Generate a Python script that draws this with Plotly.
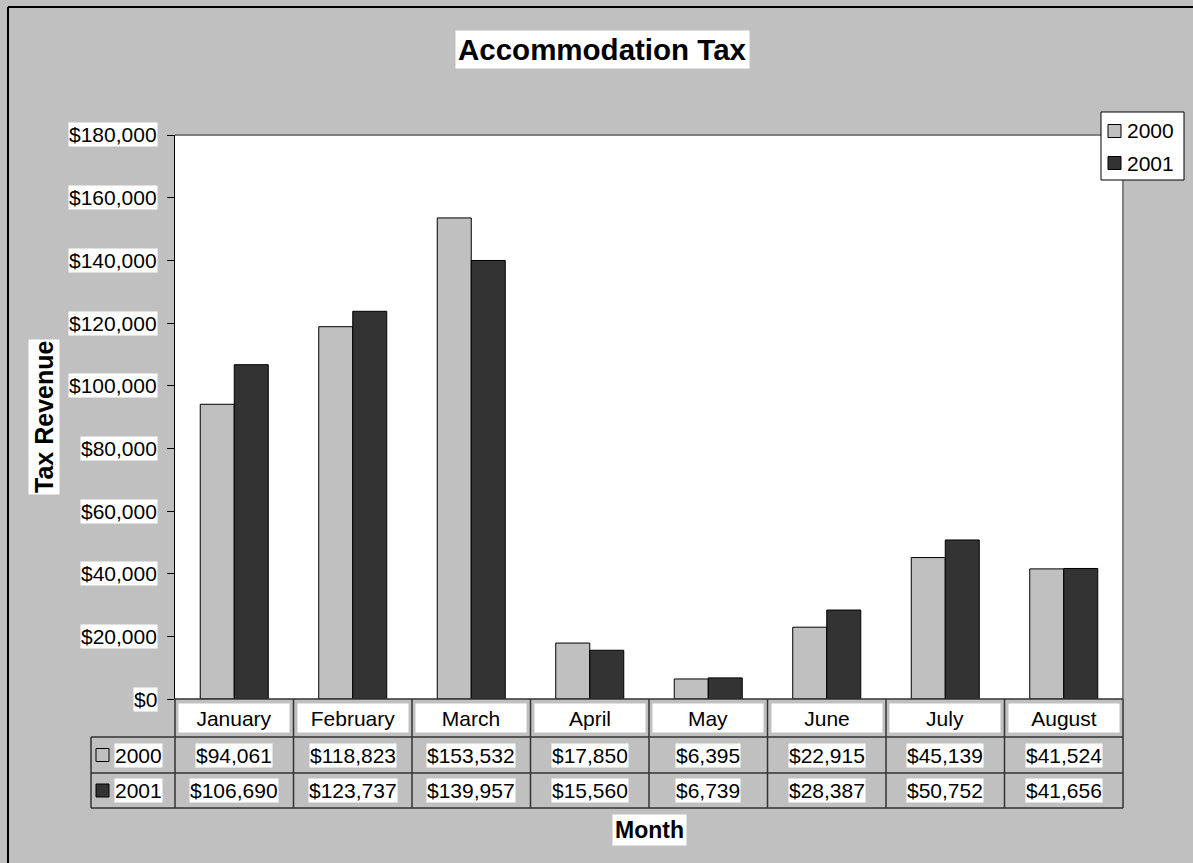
import plotly.graph_objects as go

# ── Data ────────────────────────────────────────────────────────────
MONTHS = ["January", "February", "March", "April", "May", "June", "July", "August"]
TAX_2000 = [94061, 118823, 153532, 17850, 6395, 22915, 45139, 41524]
TAX_2001 = [106690, 123737, 139957, 15560, 6739, 28387, 50752, 41656]
SERIES = ["2000", "2001"]
Y_TICKS = [0, 20000, 40000, 60000, 80000, 100000, 120000, 140000, 160000, 180000]

# ── Theme ───────────────────────────────────────────────────────────
W, H = 1193, 863
FONT = "Liberation Sans, Arial, sans-serif"
BG = "#C0C0C0"
COLOR_2000 = "#C0C0C0"
COLOR_2001 = "#333333"
COLORS = [COLOR_2000, COLOR_2001]
TXT = 21

# plot area in pixels
PL, PR, PT, PB = 175, 1123, 135, 699
ROW1, ROW2, ROW_END = 737, 773, 808
KEY_LEFT = 91


def px(x):
    return x / W


def py(y):
    return 1 - y / H


def label(x, y, text, size=TXT, **kw):
    """White-boxed text, Excel style, centred on (x, y) unless told otherwise."""
    d = dict(x=x, y=y, text=text, showarrow=False, bgcolor="white",
             borderpad=0, xanchor="center", yanchor="middle",
             font=dict(size=size, color="#000000"))
    d.update(kw)
    return d


fig = go.Figure()
for name, vals, col in zip(SERIES, [TAX_2000, TAX_2001], COLORS):
    fig.add_trace(go.Bar(
        x=MONTHS, y=vals, name=name,
        marker=dict(color=col, line=dict(color="#000000", width=1)),
    ))

shapes = []
annotations = []


def hline(y, x0, x1, color, width):
    shapes.append(dict(type="line", xref="paper", yref="paper",
                       x0=px(x0), x1=px(x1), y0=py(y), y1=py(y),
                       line=dict(color=color, width=width)))


def vline(x, y0, y1, color, width):
    shapes.append(dict(type="line", xref="paper", yref="paper",
                       x0=px(x), x1=px(x), y0=py(y0), y1=py(y1),
                       line=dict(color=color, width=width)))


# outer chart border
hline(7, 8, W + 5, "#000000", 2)
vline(8, 7, H + 5, "#000000", 2)

# plot area top / right border (gray)
hline(PT, PL, PR, "#808080", 2)
vline(PR, PT, PB, "#808080", 2)

# data table grid
TBL = "#333333"
hline(PB, PL, PR, TBL, 1.5)
for y in (ROW1, ROW2, ROW_END):
    hline(y, KEY_LEFT, PR, TBL, 1.5)
col_w = (PR - PL) / len(MONTHS)
for i in range(len(MONTHS) + 1):
    vline(PL + i * col_w, PB, ROW_END, TBL, 1.5)
vline(KEY_LEFT, ROW1, ROW_END, TBL, 1.5)

# month header cells
for m in MONTHS:
    annotations.append(label(m, py((PB + ROW1) / 2), m, xref="x", yref="paper",
                             width=110, height=28))

# value rows + series keys
for name, vals, col, (r0, r1) in zip(SERIES, [TAX_2000, TAX_2001], COLORS,
                                     [(ROW1, ROW2), (ROW2, ROW_END)]):
    ym = (r0 + r1) / 2
    for m, v in zip(MONTHS, vals):
        annotations.append(label(m, py(ym), f"${v:,}", xref="x", yref="paper"))
    shapes.append(dict(type="rect", xref="paper", yref="paper",
                       x0=px(96), x1=px(109), y0=py(ym - 6.5), y1=py(ym + 6.5),
                       fillcolor=col, line=dict(color="#000000", width=1)))
    annotations.append(label(px(114), py(ym), name, xref="paper", yref="paper",
                             xanchor="left"))

# y tick labels with white boxes
for t in Y_TICKS:
    annotations.append(label(px(158), t, f"${t:,}", xref="paper", yref="y",
                             xanchor="right"))

# legend box (top right)
shapes.append(dict(type="rect", xref="paper", yref="paper",
                   x0=px(1101), x1=px(1184), y0=py(112), y1=py(180),
                   fillcolor="white", line=dict(color="#000000", width=1)))
for i, (name, col) in enumerate(zip(SERIES, COLORS)):
    yc = 131 + i * 32
    shapes.append(dict(type="rect", xref="paper", yref="paper",
                       x0=px(1108), x1=px(1121), y0=py(yc - 6.5), y1=py(yc + 6.5),
                       fillcolor=col, line=dict(color="#000000", width=1)))
    annotations.append(label(px(1126), py(yc), name, xref="paper", yref="paper",
                             xanchor="left", bgcolor="rgba(0,0,0,0)"))

# titles
annotations.append(label(px(603), py(50), "<b>Accommodation Tax</b>", size=29.5,
                         xref="paper", yref="paper", borderpad=2))
annotations.append(label(px(44), py(417), "<b>Tax Revenue</b>", size=25,
                         xref="paper", yref="paper", textangle=-90, borderpad=1))
annotations.append(label(px(649), py(830), "<b>Month</b>", size=23,
                         xref="paper", yref="paper", borderpad=2))

fig.update_layout(
    width=W, height=H,
    margin=dict(l=0, r=0, t=0, b=0),
    paper_bgcolor=BG,
    plot_bgcolor="white",
    font=dict(family=FONT, size=TXT, color="#000000"),
    barmode="group",
    bargap=0.426,
    bargroupgap=0,
    showlegend=False,
    xaxis=dict(
        domain=[px(PL), px(PR)], range=[-0.5, len(MONTHS) - 0.5],
        showticklabels=False, ticks="", showline=False, showgrid=False,
        zeroline=False,
    ),
    yaxis=dict(
        domain=[py(PB), py(PT)], range=[0, 180000],
        tickvals=Y_TICKS, showticklabels=False, ticks="outside", ticklen=7,
        tickcolor="#000000", showline=True, linecolor="#000000", linewidth=1,
        showgrid=False, zeroline=False,
    ),
    shapes=shapes,
    annotations=annotations,
)

fig.write_html("out.html", config={"displayModeBar": False},
               post_script="document.body.style.margin='0';")
